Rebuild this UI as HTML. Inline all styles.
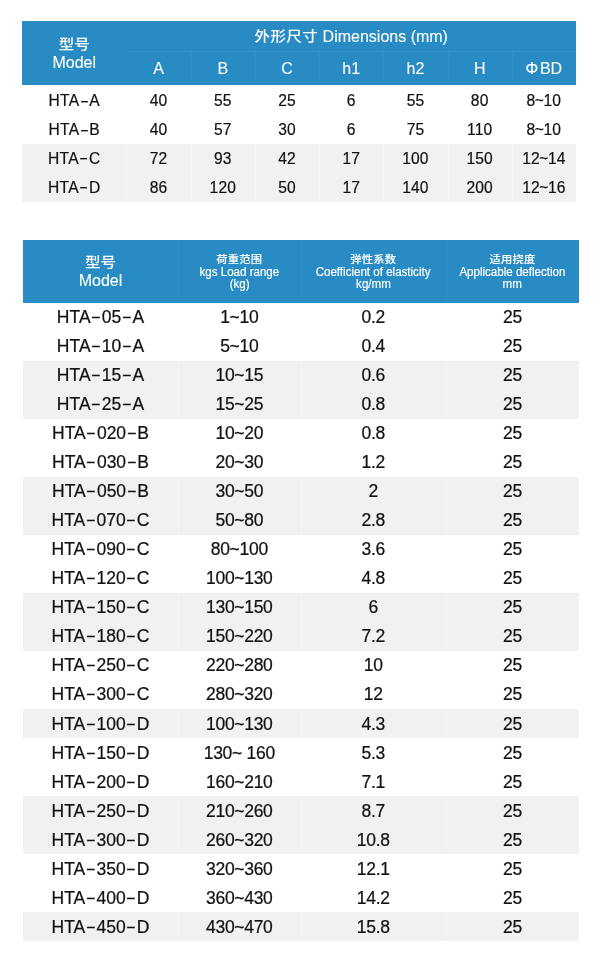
<!DOCTYPE html>
<html lang="zh-CN">
<head>
<meta charset="utf-8">
<meta name="viewport" content="width=600">
<title>HTA Dimensions</title>
<style>
*{box-sizing:border-box;margin:0;padding:0}
html,body{width:600px;height:962px;background:#fff;overflow:hidden}
body{position:relative;font-family:"Liberation Sans","Noto Sans CJK SC",sans-serif;color:#111;}
.abs{position:absolute}
.hd{background:#298bc3;color:#fff}
.c{position:absolute;display:flex;align-items:center;justify-content:center;text-align:center;white-space:nowrap}
.g{position:absolute;background:#f1f1f1}
.vl{position:absolute;width:1px;background:rgba(255,255,255,.32)}
.hl{position:absolute;height:1px;background:rgba(255,255,255,.07)}
.vh{position:absolute;width:1px;background:rgba(255,255,255,.035)}
.d{display:inline-block;transform:scale(1.75,.9);margin:0 2.7px}
.t1 .c.b{font-size:15.6px;letter-spacing:.15px;line-height:18px;padding-top:1.6px;-webkit-text-stroke:.2px currentColor}
.t1 .tl{margin:0 -.6px}
.t1 .c.b.m{letter-spacing:.3px}
.ph{margin-right:1.6px}
.t2 .c.b{font-size:17.5px;letter-spacing:-.3px;line-height:20px;-webkit-text-stroke:.22px currentColor}
.t2 .c.b.m{font-size:17.5px;letter-spacing:0}
.t1 .c.b.m .d{margin:0 2.2px}
.c.h1a{font-size:16px;letter-spacing:0;line-height:19px;color:#fff;-webkit-text-stroke:.08px currentColor}
.c.h2s{font-size:12.3px;line-height:12.6px;color:#fff;-webkit-text-stroke:.18px currentColor}
.c.h2s .la{display:inline-block;transform:scaleX(.94)}
.cj{font-weight:500;display:inline-block;transform:scaleY(.9);-webkit-text-stroke:0}
.c.h1a .cj{font-size:15.5px;letter-spacing:0}
.c.h1a .cj.w{letter-spacing:.4px}
.c.h2s .cj{font-size:11.3px;letter-spacing:.25px;transform:scaleY(.92);-webkit-text-stroke:.1px currentColor}
.ln{display:block;position:relative}
</style>
</head>
<body>
<section class="t1">
<div class="abs hd" style="left:22.00px;top:21.00px;width:554.00px;height:64.00px;"></div>
<div class="c h1a" style="left:22.00px;top:21.00px;width:104.50px;height:64.00px;"><div><span class="ln" style="top:.8px"><span class="cj">型号</span></span><span class="ln" style="top:-.2px">Model</span></div></div>
<div class="c h1a" style="left:126.50px;top:21.00px;width:449.50px;height:30.00px;"><span class="cj w">外形尺寸</span>&nbsp;Dimensions (mm)</div>
<div class="c h1a" style="left:126.50px;top:51.00px;width:64.21px;height:34.00px;">A</div>
<div class="c h1a" style="left:190.71px;top:51.00px;width:64.21px;height:34.00px;">B</div>
<div class="c h1a" style="left:254.93px;top:51.00px;width:64.21px;height:34.00px;">C</div>
<div class="c h1a" style="left:319.14px;top:51.00px;width:64.21px;height:34.00px;">h1</div>
<div class="c h1a" style="left:383.36px;top:51.00px;width:64.21px;height:34.00px;">h2</div>
<div class="c h1a" style="left:447.57px;top:51.00px;width:64.21px;height:34.00px;">H</div>
<div class="c h1a" style="left:511.79px;top:51.00px;width:64.21px;height:34.00px;"><span class="ph">Φ</span>BD</div>
<div class="hl" style="left:126.5px;top:51px;width:449.5px"></div>
<div class="vh" style="left:191px;top:51px;height:34px"></div>
<div class="vh" style="left:255px;top:51px;height:34px"></div>
<div class="vh" style="left:319px;top:51px;height:34px"></div>
<div class="vh" style="left:383px;top:51px;height:34px"></div>
<div class="vh" style="left:448px;top:51px;height:34px"></div>
<div class="vh" style="left:512px;top:51px;height:34px"></div>
<div class="g" style="left:22.00px;top:144.00px;width:554.00px;height:58.00px;"></div>
<div class="vl" style="left:126px;top:144px;height:58px"></div>
<div class="vl" style="left:191px;top:144px;height:58px"></div>
<div class="vl" style="left:255px;top:144px;height:58px"></div>
<div class="vl" style="left:319px;top:144px;height:58px"></div>
<div class="vl" style="left:383px;top:144px;height:58px"></div>
<div class="vl" style="left:448px;top:144px;height:58px"></div>
<div class="vl" style="left:512px;top:144px;height:58px"></div>
<div class="c b m" style="left:22.00px;top:85.20px;width:104.50px;height:29.40px;"><span class="x">HTA<span class="d">-</span>A</span></div>
<div class="c b" style="left:126.50px;top:85.20px;width:64.21px;height:29.40px;">40</div>
<div class="c b" style="left:190.71px;top:85.20px;width:64.21px;height:29.40px;">55</div>
<div class="c b" style="left:254.93px;top:85.20px;width:64.21px;height:29.40px;">25</div>
<div class="c b" style="left:319.14px;top:85.20px;width:64.21px;height:29.40px;">6</div>
<div class="c b" style="left:383.36px;top:85.20px;width:64.21px;height:29.40px;">55</div>
<div class="c b" style="left:447.57px;top:85.20px;width:64.21px;height:29.40px;">80</div>
<div class="c b" style="left:511.79px;top:85.20px;width:64.21px;height:29.40px;">8<span class="tl">~</span>10</div>
<div class="c b m" style="left:22.00px;top:114.60px;width:104.50px;height:29.20px;"><span class="x">HTA<span class="d">-</span>B</span></div>
<div class="c b" style="left:126.50px;top:114.60px;width:64.21px;height:29.20px;">40</div>
<div class="c b" style="left:190.71px;top:114.60px;width:64.21px;height:29.20px;">57</div>
<div class="c b" style="left:254.93px;top:114.60px;width:64.21px;height:29.20px;">30</div>
<div class="c b" style="left:319.14px;top:114.60px;width:64.21px;height:29.20px;">6</div>
<div class="c b" style="left:383.36px;top:114.60px;width:64.21px;height:29.20px;">75</div>
<div class="c b" style="left:447.57px;top:114.60px;width:64.21px;height:29.20px;">110</div>
<div class="c b" style="left:511.79px;top:114.60px;width:64.21px;height:29.20px;">8<span class="tl">~</span>10</div>
<div class="c b m" style="left:22.00px;top:143.80px;width:104.50px;height:29.10px;"><span class="x">HTA<span class="d">-</span>C</span></div>
<div class="c b" style="left:126.50px;top:143.80px;width:64.21px;height:29.10px;">72</div>
<div class="c b" style="left:190.71px;top:143.80px;width:64.21px;height:29.10px;">93</div>
<div class="c b" style="left:254.93px;top:143.80px;width:64.21px;height:29.10px;">42</div>
<div class="c b" style="left:319.14px;top:143.80px;width:64.21px;height:29.10px;">17</div>
<div class="c b" style="left:383.36px;top:143.80px;width:64.21px;height:29.10px;">100</div>
<div class="c b" style="left:447.57px;top:143.80px;width:64.21px;height:29.10px;">150</div>
<div class="c b" style="left:511.79px;top:143.80px;width:64.21px;height:29.10px;">12<span class="tl">~</span>14</div>
<div class="c b m" style="left:22.00px;top:172.90px;width:104.50px;height:29.00px;"><span class="x">HTA<span class="d">-</span>D</span></div>
<div class="c b" style="left:126.50px;top:172.90px;width:64.21px;height:29.00px;">86</div>
<div class="c b" style="left:190.71px;top:172.90px;width:64.21px;height:29.00px;">120</div>
<div class="c b" style="left:254.93px;top:172.90px;width:64.21px;height:29.00px;">50</div>
<div class="c b" style="left:319.14px;top:172.90px;width:64.21px;height:29.00px;">17</div>
<div class="c b" style="left:383.36px;top:172.90px;width:64.21px;height:29.00px;">140</div>
<div class="c b" style="left:447.57px;top:172.90px;width:64.21px;height:29.00px;">200</div>
<div class="c b" style="left:511.79px;top:172.90px;width:64.21px;height:29.00px;">12<span class="tl">~</span>16</div>
</section>
<section class="t2">
<div class="abs hd" style="left:23.00px;top:240.00px;width:556.00px;height:62.50px;"></div>
<div class="c h1a" style="left:23.00px;top:240.00px;width:155.00px;height:62.50px;"><div><span class="ln" style="top:.9px"><span class="cj">型号</span></span><span class="ln" style="top:0px">Model</span></div></div>
<div class="c h2s" style="left:178.00px;top:240.00px;width:122.60px;height:62.50px;"><div><span class="ln" style="top:.2px"><span class="cj">荷重范围</span></span><span class="ln" style="top:.8px"><span class="la">kgs Load range</span></span><span class="ln" style="top:.8px"><span class="la">(kg)</span></span></div></div>
<div class="c h2s" style="left:300.60px;top:240.00px;width:145.40px;height:62.50px;"><div><span class="ln" style="top:.2px"><span class="cj">弹性系数</span></span><span class="ln" style="top:.8px"><span class="la">Coefficient of elasticity</span></span><span class="ln" style="top:.8px"><span class="la">kg/mm</span></span></div></div>
<div class="c h2s" style="left:446.00px;top:240.00px;width:133.00px;height:62.50px;"><div><span class="ln" style="top:.2px"><span class="cj">适用挠度</span></span><span class="ln" style="top:.8px"><span class="la">Applicable deflection</span></span><span class="ln" style="top:.8px"><span class="la">mm</span></span></div></div>
<div class="vh" style="left:178px;top:240px;height:62.5px"></div>
<div class="vh" style="left:301px;top:240px;height:62.5px"></div>
<div class="vh" style="left:446px;top:240px;height:62.5px"></div>
<div class="g" style="left:23.00px;top:361.00px;width:556.00px;height:58.00px;"></div>
<div class="vl" style="left:178px;top:361px;height:58px"></div>
<div class="vl" style="left:301px;top:361px;height:58px"></div>
<div class="vl" style="left:446px;top:361px;height:58px"></div>
<div class="g" style="left:23.00px;top:477.00px;width:556.00px;height:58.00px;"></div>
<div class="vl" style="left:178px;top:477px;height:58px"></div>
<div class="vl" style="left:301px;top:477px;height:58px"></div>
<div class="vl" style="left:446px;top:477px;height:58px"></div>
<div class="g" style="left:23.00px;top:593.00px;width:556.00px;height:58.00px;"></div>
<div class="vl" style="left:178px;top:593px;height:58px"></div>
<div class="vl" style="left:301px;top:593px;height:58px"></div>
<div class="vl" style="left:446px;top:593px;height:58px"></div>
<div class="g" style="left:23.00px;top:709.00px;width:556.00px;height:29.00px;"></div>
<div class="vl" style="left:178px;top:709px;height:29px"></div>
<div class="vl" style="left:301px;top:709px;height:29px"></div>
<div class="vl" style="left:446px;top:709px;height:29px"></div>
<div class="g" style="left:23.00px;top:796.00px;width:556.00px;height:58.00px;"></div>
<div class="vl" style="left:178px;top:796px;height:58px"></div>
<div class="vl" style="left:301px;top:796px;height:58px"></div>
<div class="vl" style="left:446px;top:796px;height:58px"></div>
<div class="g" style="left:23.00px;top:912.00px;width:556.00px;height:29.00px;"></div>
<div class="vl" style="left:178px;top:912px;height:29px"></div>
<div class="vl" style="left:301px;top:912px;height:29px"></div>
<div class="vl" style="left:446px;top:912px;height:29px"></div>
<div class="c b m" style="left:23.00px;top:302.60px;width:155.00px;height:29.03px;">HTA<span class="d">-</span>05<span class="d">-</span>A</div>
<div class="c b" style="left:178.00px;top:302.60px;width:122.60px;height:29.03px;">1~10</div>
<div class="c b" style="left:300.60px;top:302.60px;width:145.40px;height:29.03px;">0.2</div>
<div class="c b" style="left:446.00px;top:302.60px;width:133.00px;height:29.03px;">25</div>
<div class="c b m" style="left:23.00px;top:331.63px;width:155.00px;height:29.03px;">HTA<span class="d">-</span>10<span class="d">-</span>A</div>
<div class="c b" style="left:178.00px;top:331.63px;width:122.60px;height:29.03px;">5~10</div>
<div class="c b" style="left:300.60px;top:331.63px;width:145.40px;height:29.03px;">0.4</div>
<div class="c b" style="left:446.00px;top:331.63px;width:133.00px;height:29.03px;">25</div>
<div class="c b m" style="left:23.00px;top:360.66px;width:155.00px;height:29.03px;">HTA<span class="d">-</span>15<span class="d">-</span>A</div>
<div class="c b" style="left:178.00px;top:360.66px;width:122.60px;height:29.03px;">10~15</div>
<div class="c b" style="left:300.60px;top:360.66px;width:145.40px;height:29.03px;">0.6</div>
<div class="c b" style="left:446.00px;top:360.66px;width:133.00px;height:29.03px;">25</div>
<div class="c b m" style="left:23.00px;top:389.69px;width:155.00px;height:29.03px;">HTA<span class="d">-</span>25<span class="d">-</span>A</div>
<div class="c b" style="left:178.00px;top:389.69px;width:122.60px;height:29.03px;">15~25</div>
<div class="c b" style="left:300.60px;top:389.69px;width:145.40px;height:29.03px;">0.8</div>
<div class="c b" style="left:446.00px;top:389.69px;width:133.00px;height:29.03px;">25</div>
<div class="c b m" style="left:23.00px;top:418.72px;width:155.00px;height:29.03px;">HTA<span class="d">-</span>020<span class="d">-</span>B</div>
<div class="c b" style="left:178.00px;top:418.72px;width:122.60px;height:29.03px;">10~20</div>
<div class="c b" style="left:300.60px;top:418.72px;width:145.40px;height:29.03px;">0.8</div>
<div class="c b" style="left:446.00px;top:418.72px;width:133.00px;height:29.03px;">25</div>
<div class="c b m" style="left:23.00px;top:447.75px;width:155.00px;height:29.03px;">HTA<span class="d">-</span>030<span class="d">-</span>B</div>
<div class="c b" style="left:178.00px;top:447.75px;width:122.60px;height:29.03px;">20~30</div>
<div class="c b" style="left:300.60px;top:447.75px;width:145.40px;height:29.03px;">1.2</div>
<div class="c b" style="left:446.00px;top:447.75px;width:133.00px;height:29.03px;">25</div>
<div class="c b m" style="left:23.00px;top:476.78px;width:155.00px;height:29.03px;">HTA<span class="d">-</span>050<span class="d">-</span>B</div>
<div class="c b" style="left:178.00px;top:476.78px;width:122.60px;height:29.03px;">30~50</div>
<div class="c b" style="left:300.60px;top:476.78px;width:145.40px;height:29.03px;">2</div>
<div class="c b" style="left:446.00px;top:476.78px;width:133.00px;height:29.03px;">25</div>
<div class="c b m" style="left:23.00px;top:505.81px;width:155.00px;height:29.03px;">HTA<span class="d">-</span>070<span class="d">-</span>C</div>
<div class="c b" style="left:178.00px;top:505.81px;width:122.60px;height:29.03px;">50~80</div>
<div class="c b" style="left:300.60px;top:505.81px;width:145.40px;height:29.03px;">2.8</div>
<div class="c b" style="left:446.00px;top:505.81px;width:133.00px;height:29.03px;">25</div>
<div class="c b m" style="left:23.00px;top:534.84px;width:155.00px;height:29.03px;">HTA<span class="d">-</span>090<span class="d">-</span>C</div>
<div class="c b" style="left:178.00px;top:534.84px;width:122.60px;height:29.03px;">80~100</div>
<div class="c b" style="left:300.60px;top:534.84px;width:145.40px;height:29.03px;">3.6</div>
<div class="c b" style="left:446.00px;top:534.84px;width:133.00px;height:29.03px;">25</div>
<div class="c b m" style="left:23.00px;top:563.87px;width:155.00px;height:29.03px;">HTA<span class="d">-</span>120<span class="d">-</span>C</div>
<div class="c b" style="left:178.00px;top:563.87px;width:122.60px;height:29.03px;">100~130</div>
<div class="c b" style="left:300.60px;top:563.87px;width:145.40px;height:29.03px;">4.8</div>
<div class="c b" style="left:446.00px;top:563.87px;width:133.00px;height:29.03px;">25</div>
<div class="c b m" style="left:23.00px;top:592.90px;width:155.00px;height:29.03px;">HTA<span class="d">-</span>150<span class="d">-</span>C</div>
<div class="c b" style="left:178.00px;top:592.90px;width:122.60px;height:29.03px;">130~150</div>
<div class="c b" style="left:300.60px;top:592.90px;width:145.40px;height:29.03px;">6</div>
<div class="c b" style="left:446.00px;top:592.90px;width:133.00px;height:29.03px;">25</div>
<div class="c b m" style="left:23.00px;top:621.93px;width:155.00px;height:29.03px;">HTA<span class="d">-</span>180<span class="d">-</span>C</div>
<div class="c b" style="left:178.00px;top:621.93px;width:122.60px;height:29.03px;">150~220</div>
<div class="c b" style="left:300.60px;top:621.93px;width:145.40px;height:29.03px;">7.2</div>
<div class="c b" style="left:446.00px;top:621.93px;width:133.00px;height:29.03px;">25</div>
<div class="c b m" style="left:23.00px;top:650.96px;width:155.00px;height:29.03px;">HTA<span class="d">-</span>250<span class="d">-</span>C</div>
<div class="c b" style="left:178.00px;top:650.96px;width:122.60px;height:29.03px;">220~280</div>
<div class="c b" style="left:300.60px;top:650.96px;width:145.40px;height:29.03px;">10</div>
<div class="c b" style="left:446.00px;top:650.96px;width:133.00px;height:29.03px;">25</div>
<div class="c b m" style="left:23.00px;top:679.99px;width:155.00px;height:29.03px;">HTA<span class="d">-</span>300<span class="d">-</span>C</div>
<div class="c b" style="left:178.00px;top:679.99px;width:122.60px;height:29.03px;">280~320</div>
<div class="c b" style="left:300.60px;top:679.99px;width:145.40px;height:29.03px;">12</div>
<div class="c b" style="left:446.00px;top:679.99px;width:133.00px;height:29.03px;">25</div>
<div class="c b m" style="left:23.00px;top:709.02px;width:155.00px;height:29.03px;">HTA<span class="d">-</span>100<span class="d">-</span>D</div>
<div class="c b" style="left:178.00px;top:709.02px;width:122.60px;height:29.03px;">100~130</div>
<div class="c b" style="left:300.60px;top:709.02px;width:145.40px;height:29.03px;">4.3</div>
<div class="c b" style="left:446.00px;top:709.02px;width:133.00px;height:29.03px;">25</div>
<div class="c b m" style="left:23.00px;top:738.05px;width:155.00px;height:29.03px;">HTA<span class="d">-</span>150<span class="d">-</span>D</div>
<div class="c b" style="left:178.00px;top:738.05px;width:122.60px;height:29.03px;">130~ 160</div>
<div class="c b" style="left:300.60px;top:738.05px;width:145.40px;height:29.03px;">5.3</div>
<div class="c b" style="left:446.00px;top:738.05px;width:133.00px;height:29.03px;">25</div>
<div class="c b m" style="left:23.00px;top:767.08px;width:155.00px;height:29.03px;">HTA<span class="d">-</span>200<span class="d">-</span>D</div>
<div class="c b" style="left:178.00px;top:767.08px;width:122.60px;height:29.03px;">160~210</div>
<div class="c b" style="left:300.60px;top:767.08px;width:145.40px;height:29.03px;">7.1</div>
<div class="c b" style="left:446.00px;top:767.08px;width:133.00px;height:29.03px;">25</div>
<div class="c b m" style="left:23.00px;top:796.11px;width:155.00px;height:29.03px;">HTA<span class="d">-</span>250<span class="d">-</span>D</div>
<div class="c b" style="left:178.00px;top:796.11px;width:122.60px;height:29.03px;">210~260</div>
<div class="c b" style="left:300.60px;top:796.11px;width:145.40px;height:29.03px;">8.7</div>
<div class="c b" style="left:446.00px;top:796.11px;width:133.00px;height:29.03px;">25</div>
<div class="c b m" style="left:23.00px;top:825.14px;width:155.00px;height:29.03px;">HTA<span class="d">-</span>300<span class="d">-</span>D</div>
<div class="c b" style="left:178.00px;top:825.14px;width:122.60px;height:29.03px;">260~320</div>
<div class="c b" style="left:300.60px;top:825.14px;width:145.40px;height:29.03px;">10.8</div>
<div class="c b" style="left:446.00px;top:825.14px;width:133.00px;height:29.03px;">25</div>
<div class="c b m" style="left:23.00px;top:854.17px;width:155.00px;height:29.03px;">HTA<span class="d">-</span>350<span class="d">-</span>D</div>
<div class="c b" style="left:178.00px;top:854.17px;width:122.60px;height:29.03px;">320~360</div>
<div class="c b" style="left:300.60px;top:854.17px;width:145.40px;height:29.03px;">12.1</div>
<div class="c b" style="left:446.00px;top:854.17px;width:133.00px;height:29.03px;">25</div>
<div class="c b m" style="left:23.00px;top:883.20px;width:155.00px;height:29.03px;">HTA<span class="d">-</span>400<span class="d">-</span>D</div>
<div class="c b" style="left:178.00px;top:883.20px;width:122.60px;height:29.03px;">360~430</div>
<div class="c b" style="left:300.60px;top:883.20px;width:145.40px;height:29.03px;">14.2</div>
<div class="c b" style="left:446.00px;top:883.20px;width:133.00px;height:29.03px;">25</div>
<div class="c b m" style="left:23.00px;top:912.23px;width:155.00px;height:29.03px;">HTA<span class="d">-</span>450<span class="d">-</span>D</div>
<div class="c b" style="left:178.00px;top:912.23px;width:122.60px;height:29.03px;">430~470</div>
<div class="c b" style="left:300.60px;top:912.23px;width:145.40px;height:29.03px;">15.8</div>
<div class="c b" style="left:446.00px;top:912.23px;width:133.00px;height:29.03px;">25</div>
</section>
</body>
</html>
